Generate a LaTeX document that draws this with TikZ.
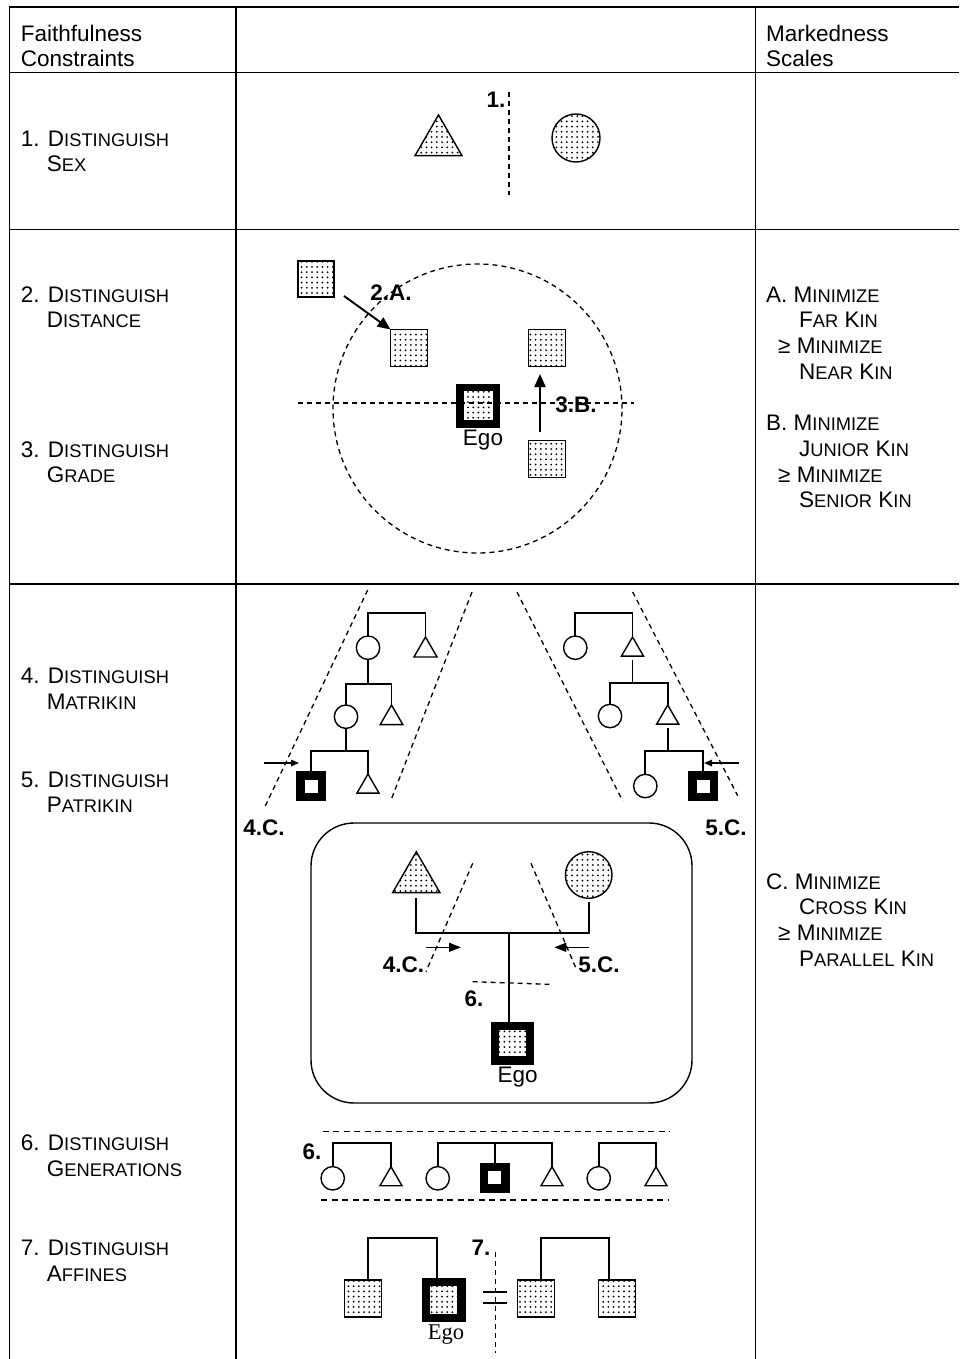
\documentclass[tikz,border=0pt]{standalone}
\usepackage{fontspec}
\setmainfont{Liberation Sans}
\newfontfamily\egoserif{Liberation Serif}
\usetikzlibrary{patterns.meta,arrows.meta,shapes.geometric,calc}
\newcommand\ksc[2]{#1{\fontsize{18.3}{25.5}\selectfont #2}}
\begin{document}
\begin{tikzpicture}[x=1pt,y=-1pt,
  tline/.style={line width=1.3pt},
  kin/.style={line width=1.7pt},
  dsh/.style={line width=1.3pt, dash pattern=on 5pt off 4pt},
  dsh6/.style={line width=1.5pt, dash pattern=on 6pt off 4.5pt},
  dots/.style={pattern={Dots[distance=5.2pt,radius=1pt]}},
  sq/.style={draw, rectangle, line width=1.4pt, minimum size=#1, inner sep=0pt, outer sep=0pt},
  egosq/.style={draw, rectangle, inner sep=0pt, outer sep=0pt},
  circ/.style={draw, circle, line width=1.4pt, minimum size=#1, inner sep=0pt, outer sep=0pt},
  tri/.style={draw, regular polygon, regular polygon sides=3, line width=1.4pt, minimum size=#1, inner sep=0pt, outer sep=0pt},
  arrL/.style={line width=1.9pt, -{Triangle[length=13pt,width=11pt]}},
  arrM/.style={line width=1.6pt, -{Triangle[length=12pt,width=9pt]}},
  arrS/.style={line width=1.5pt, -{Triangle[length=8pt,width=6.5pt]}},
  txt/.style={anchor=base west, inner sep=0pt, font=\fontsize{22.5}{25.5}\selectfont},
  txtc/.style={anchor=base, inner sep=0pt, font=\fontsize{22.5}{25.5}\selectfont},
  lbl/.style={anchor=base, inner sep=0pt, font=\bfseries\fontsize{22.5}{25.5}\selectfont}
]
\useasboundingbox (0,0) rectangle (959,1359);
\fill[white] (0,0) rectangle (959,1359);

% ---------------- table ----------------
\draw[tline] (9.5,1359) -- (9.5,7) -- (959,7);
\draw[tline] (9.5,72.7) -- (959,72.7);
\draw[tline] (9.5,229.3) -- (959,229.3);
\draw[tline] (9.5,584) -- (959,584);
\draw[tline] (236,7) -- (236,1359);
\draw[tline] (755.7,7) -- (755.7,1359);

% ---------------- header ----------------
\node[txt] (h1) at (20.7,41.7) {Faithfulness};
\node[txt] (h2) at (20.7,66.7) {Constraints};
\node[txt] (m1) at (766,41.7) {Markedness};
\node[txt] (m2) at (766,66.7) {Scales};

% ---------------- left column ----------------
\node[txt] (r1a) at (20.7,146.5) {1. \ksc{D}{ISTINGUISH}};
\node[txt] (r1b) at (46.7,171.5) {\ksc{S}{EX}};
\node[txt] (r2a) at (20.7,302.5) {2. \ksc{D}{ISTINGUISH}};
\node[txt] (r2b) at (46.7,327.5) {\ksc{D}{ISTANCE}};
\node[txt] (r3a) at (20.7,457.5) {3. \ksc{D}{ISTINGUISH}};
\node[txt] (r3b) at (46.7,482.5) {\ksc{G}{RADE}};
\node[txt] (r4a) at (20.7,683.5) {4. \ksc{D}{ISTINGUISH}};
\node[txt] (r4b) at (46.7,709.5) {\ksc{M}{ATRIKIN}};
\node[txt] (r5a) at (20.7,787.5) {5. \ksc{D}{ISTINGUISH}};
\node[txt] (r5b) at (46.7,812.5) {\ksc{P}{ATRIKIN}};
\node[txt] (r6a) at (20.7,1150.5) {6. \ksc{D}{ISTINGUISH}};
\node[txt] (r6b) at (46.7,1176.5) {\ksc{G}{ENERATIONS}};
\node[txt] (r7a) at (20.7,1255.5) {7. \ksc{D}{ISTINGUISH}};
\node[txt] (r7b) at (46.7,1281.5) {\ksc{A}{FFINES}};

% ---------------- right column ----------------
\node[txt] (ra1) at (766,302.5) {A. \ksc{M}{INIMIZE}};
\node[txt] (ra2) at (799,327.5) {\ksc{F}{AR} \ksc{K}{IN}};
\node[txt] (ra3) at (778,353.5) {≥ \ksc{M}{INIMIZE}};
\node[txt] (ra4) at (799,379.5) {\ksc{N}{EAR} \ksc{K}{IN}};
\node[txt] (rb1) at (766,430.5) {B. \ksc{M}{INIMIZE}};
\node[txt] (rb2) at (799,456.5) {\ksc{J}{UNIOR} \ksc{K}{IN}};
\node[txt] (rb3) at (778,482.5) {≥ \ksc{M}{INIMIZE}};
\node[txt] (rb4) at (799,507.5) {\ksc{S}{ENIOR} \ksc{K}{IN}};
\node[txt] (rc1) at (766,889.5) {C. \ksc{M}{INIMIZE}};
\node[txt] (rc2) at (799,914.5) {\ksc{C}{ROSS} \ksc{K}{IN}};
\node[txt] (rc3) at (778,940.5) {≥ \ksc{M}{INIMIZE}};
\node[txt] (rc4) at (799,966.5) {\ksc{P}{ARALLEL} \ksc{K}{IN}};

% ---------------- section 1 ----------------
\node[tri=54.3pt, dots] (s1t) at (438.5,142.1) {};
\node[circ=48pt, dots] (s1c) at (576,138) {};
\coordinate (s1a) at (509,92);
\coordinate (s1b) at (509,195);
\draw[dsh] (s1a) -- (s1b);
\node[lbl] (s1l) at (496,108) {1.};

% ---------------- section 2/3 ----------------
\node[draw, circle, dsh, minimum size=289pt, inner sep=0pt] (s2circ) at (477.5,408.5) {};
\node[sq=36pt, dots] (s2a) at (316,279) {};
\node[sq=37pt, dots] (s2b) at (409,348) {};
\node[sq=37pt, dots] (s2c) at (547,348) {};
\node[sq=37pt, dots] (s2d) at (547,459) {};
\node[egosq, line width=7.5pt, minimum size=36.5pt, dots] (s2e) at (478,405.5) {};
\node[txtc] (s2eg) at (483,445) {Ego};
\coordinate (s2h1) at (298,403);
\coordinate (s2h2) at (634,403);
\draw[dsh] (s2h1) -- (s2h2);
\draw[arrL] ($(s2a.south east)+(10,-1)$) -- (s2b.north west);
\draw[arrL] ($(s2d.north)+(-7,-9)$) -- ($(s2c.south)+(-7,7.5)$);
\node[lbl] (l2a) at (391,300.7) {2.A.};
\node[lbl] (l3b) at (576,412.7) {3.B.};

% ---------------- section 4/5: left tree ----------------
\node[circ=23.4pt] (cL1) at (368,647.7) {};
\node[tri=26.6pt] (tL1) at (425.5,650.3) {};
\draw[kin] (cL1.north) -- ++(0,-23) -| (tL1.corner 1);
\draw[kin] (cL1.south) -- ++(0,24.6);
\node[circ=23.4pt] (cL2) at (346,716.7) {};
\node[tri=26.2pt] (tL2) at (391.5,718.1) {};
\draw[kin] (cL2.north) -- ++(0,-21) -| (tL2.corner 1);
\draw[kin] (cL2.south) -- ++(0,22.3);
\node[egosq, line width=8.5pt, minimum size=21.5pt, fill=white] (eL) at (311,786) {};
\node[tri=25.4pt] (tL3) at (368,786.7) {};
\draw[kin] (eL.north) -- ++(0,-24.5) -| (tL3.corner 1);
\coordinate (aL0) at (264,763);
\draw[arrS] (aL0) -- ($(eL.north west)+(-1.25,-12.25)$);
\coordinate (dL1a) at (367.7,590); \coordinate (dL1b) at (264.3,808);
\coordinate (dL2a) at (472,592);   \coordinate (dL2b) at (391,800);
\draw[dsh] (dL1a) -- (dL1b);
\draw[dsh] (dL2a) -- (dL2b);
\node[lbl] (l4c) at (264,835) {4.C.};

% ---------------- section 4/5: right tree ----------------
\node[circ=23.4pt] (cR1) at (575.3,647.7) {};
\node[tri=25.4pt] (tR1) at (632.5,649.7) {};
\draw[kin] (cR1.north) -- ++(0,-23) -| (tR1.corner 1);
\draw[kin] ($(tR1.side 2)+(0,4)$) -- ++(0,22.7);
\node[circ=23.4pt] (cR2) at (610,716) {};
\node[tri=25.4pt] (tR2) at (667.7,717.7) {};
\draw[kin] (cR2.north) -- ++(0,-21.6) -| (tR2.corner 1);
\draw[kin] ($(tR2.side 2)+(0,4)$) -- ++(0,22.7);
\node[circ=23.4pt] (cR3) at (645.3,786) {};
\node[egosq, line width=8.5pt, minimum size=21.5pt, fill=white] (eR) at (703,786) {};
\draw[kin] (cR3.north) -- ++(0,-23.6) -| (eR.north);
\coordinate (aR0) at (739,763);
\draw[arrS] (aR0) -- ($(eR.north)+(1,-12.25)$);
\coordinate (dR1a) at (517,592);   \coordinate (dR1b) at (622.7,801);
\coordinate (dR2a) at (632.7,592); \coordinate (dR2b) at (737.7,795.7);
\draw[dsh] (dR1a) -- (dR1b);
\draw[dsh] (dR2a) -- (dR2b);
\node[lbl] (l5c) at (726,835) {5.C.};

% ---------------- rounded box ----------------
\node[draw, rectangle, rounded corners=43pt, line width=1.4pt, minimum width=381pt, minimum height=280pt, inner sep=0pt] (rb) at (501.5,963) {};
\node[tri=54.6pt, dots] (tI) at (416.3,879) {};
\node[circ=46.6pt, dots] (cI) at (588.7,875) {};
\coordinate (jI) at (508.7,932.7);
\draw[kin] ($(tI.side 2)+(0,5.5)$) |- (jI) -| ($(cI.south)+(0,3.4)$);
\node[egosq, line width=8.2pt, minimum size=34.8pt, dots] (eI) at (512.5,1043) {};
\draw[kin] (jI) -- (jI |- eI.north);
\node[txtc] (eIl) at (517.7,1082.3) {Ego};
\coordinate (dI4a) at (472.7,863.3); \coordinate (dI4b) at (426,971.7);
\coordinate (dI5a) at (531,863.3);   \coordinate (dI5b) at (576,968.3);
\coordinate (dI6a) at (472.7,981.7); \coordinate (dI6b) at (549.3,984.3);
\draw[dsh] (dI4a) -- (dI4b);
\draw[dsh] (dI5a) -- (dI5b);
\draw[dsh] (dI6a) -- (dI6b);
\coordinate (aI4) at (426,947.3);   \coordinate (aI4e) at (461,947.3);
\coordinate (aI5) at (589.3,947.3); \coordinate (aI5e) at (554.3,947.3);
\draw[arrM] (aI4) -- (aI4e);
\draw[arrM] (aI5) -- (aI5e);
\node[lbl] (lI4) at (403.5,972.7) {4.C.};
\node[lbl] (lI5) at (599,972.7) {5.C.};
\node[lbl] (lI6) at (474,1006) {6.};

% ---------------- section 6 ----------------
\coordinate (g6a1) at (322.7,1131.7); \coordinate (g6a2) at (669.3,1131.7);
\coordinate (g6b1) at (321,1200);     \coordinate (g6b2) at (669.3,1200);
\draw[dsh6] (g6a1) -- (g6a2);
\draw[dsh6] (g6b1) -- (g6b2);
\node[lbl] (l6) at (312,1159.3) {6.};
\node[circ=23.4pt] (c61) at (332.7,1178.3) {};
\node[tri=25.4pt] (t61) at (391,1179.4) {};
\draw[kin] (c61.north) -- ++(0,-23.9) -| (t61.corner 1);
\node[circ=23.4pt] (c62) at (437.7,1178.3) {};
\node[egosq, line width=8.5pt, minimum size=21.5pt, fill=white] (e6) at (494.7,1177.7) {};
\node[tri=25.4pt] (t62) at (552,1179.4) {};
\draw[kin] (c62.north) -- ++(0,-23.9) -| (t62.corner 1);
\draw[kin] (e6.north) -- ++(0,-24.25);
\node[circ=23.4pt] (c63) at (598.7,1178.3) {};
\node[tri=25.4pt] (t63) at (656,1179.4) {};
\draw[kin] (c63.north) -- ++(0,-23.9) -| (t63.corner 1);

% ---------------- section 7 ----------------
\node[sq=37pt, dots] (s71) at (363,1298.3) {};
\node[egosq, line width=8.2pt, minimum size=35.8pt, dots] (e7) at (443.5,1300) {};
\draw[kin] ($(s71.north)+(5.3,0)$) -- ++(0,-42.1) -| ($(e7.north)+(-6.5,0)$);
\node[anchor=base, inner sep=0pt, font=\egoserif\fontsize{22.5}{25.5}\selectfont] (e7l) at (446,1339.3) {Ego};
\coordinate (d7a) at (495.3,1251.7); \coordinate (d7b) at (495.3,1353.3);
\draw[dsh] (d7a) -- (d7b);
\node[lbl] (l7) at (481,1255.7) {7.};
\coordinate (ne1a) at (482.7,1291.7); \coordinate (ne1b) at (506.7,1291.7);
\coordinate (ne2a) at (482.7,1303.3); \coordinate (ne2b) at (506.7,1303.3);
\draw[kin] (ne1a) -- (ne1b);
\draw[kin] (ne2a) -- (ne2b);
\node[sq=37pt, dots] (s73) at (536,1298.3) {};
\node[sq=37pt, dots] (s74) at (617,1298.3) {};
\draw[kin] ($(s73.north)+(5,0)$) -- ++(0,-42.1) -| ($(s74.north)+(-7.7,0)$);
\end{tikzpicture}
\end{document}
